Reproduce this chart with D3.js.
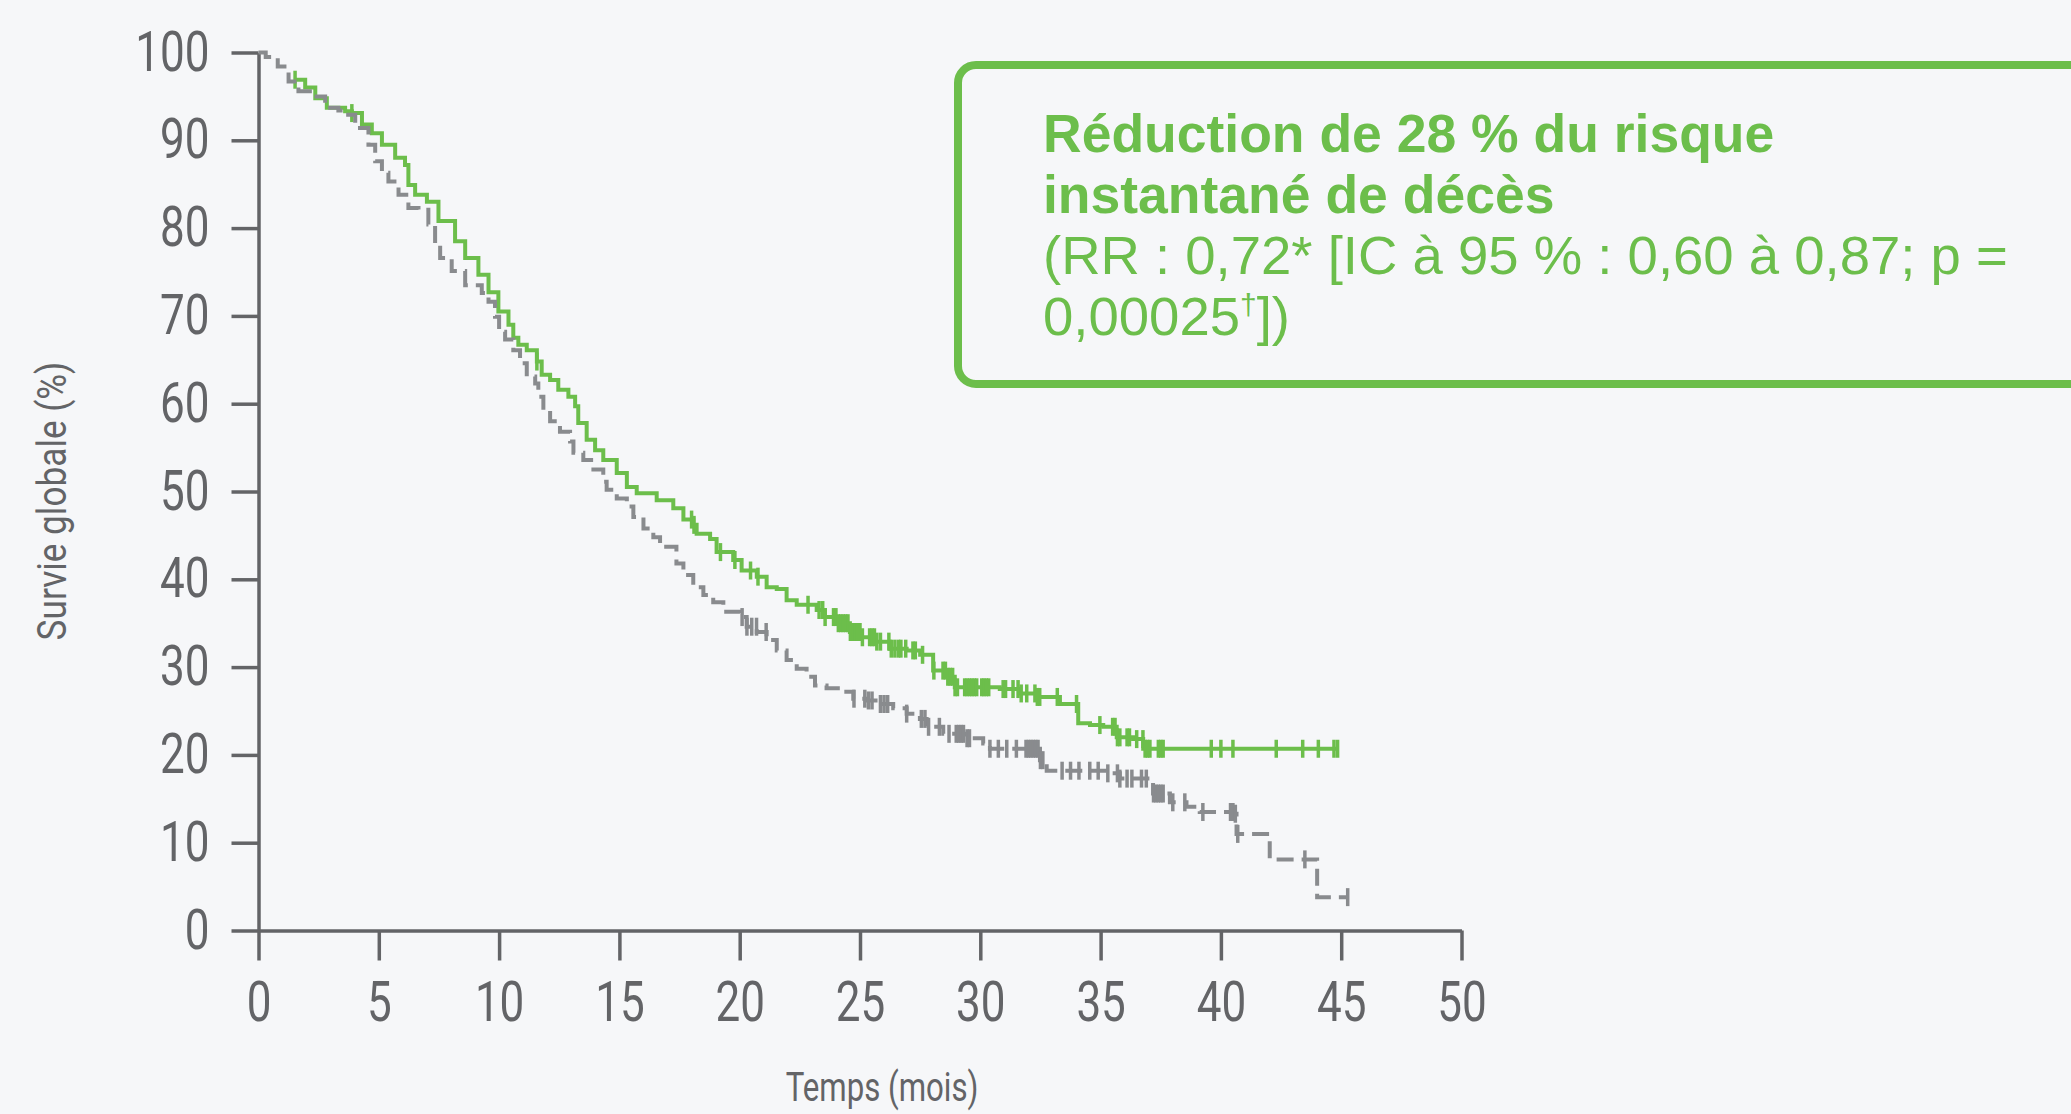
<!DOCTYPE html>
<html>
<head>
<meta charset="utf-8">
<script src="https://cdn.jsdelivr.net/npm/d3@7"></script>
<style>
  body { margin: 0; background: #f6f7f9; }
  svg { display: block; }
</style>
</head>
<body>
<svg id="chart" width="2071" height="1114"></svg>
<script>
// Axis ticks
var xTicks = [0, 5, 10, 15, 20, 25, 30, 35, 40, 45, 50];
var yTicks = [0, 10, 20, 30, 40, 50, 60, 70, 80, 90, 100];

// Treatment arm (green, solid) - months / overall survival %
var treatTime = [1.52, 1.94, 2.36, 2.84, 3.6, 3.88, 4.3, 4.71, 5.13, 5.68, 6.09, 6.23, 6.51, 7.0, 7.48, 8.17, 8.59, 9.14, 9.56, 9.97,
  10.39, 10.59, 10.8, 11.15, 11.57, 11.77, 12.12, 12.46, 12.88, 13.16, 13.29, 13.64, 13.99, 14.33, 14.89, 15.31, 15.72, 16.55, 17.24, 17.66,
  18.07, 18.21, 18.77, 19.04, 19.73, 20.08, 20.71, 21.12, 21.54, 21.95, 22.37, 23.2, 23.54, 24.03, 24.58, 25.07, 25.62, 26.24, 26.94, 27.5,
  28.04, 28.6, 28.94, 30.81, 31.64, 32.34, 33.31, 34.07, 34.56, 35.11, 35.67, 36.35, 36.77, 44.85];
var treatSurv = [96.9, 96.0, 94.8, 93.7, 93.3, 93.1, 91.8, 90.8, 89.5, 88.0, 87.2, 84.9, 83.8, 83.0, 80.8, 78.5, 76.6, 74.7, 72.7, 70.5,
  69.0, 67.5, 66.7, 66.1, 64.8, 63.3, 62.7, 61.6, 60.8, 59.7, 57.8, 55.9, 54.7, 53.6, 52.1, 50.5, 49.8, 49.0, 48.1, 46.8,
  46.2, 45.2, 44.6, 43.1, 42.2, 41.0, 40.3, 39.1, 38.9, 37.6, 37.1, 36.5, 35.7, 35.0, 34.0, 33.4, 32.9, 32.1, 31.9, 31.4,
  29.6, 28.9, 27.7, 27.5, 27.0, 26.6, 25.8, 23.6, 23.4, 23.2, 22.0, 21.8, 20.7, 20.7];
var treatCensor = [1.52, 3.88, 11.57, 18.0, 18.1, 19.2, 19.8, 20.45, 20.76, 22.84, 23.3, 23.45, 23.55, 23.9, 24.0, 24.1, 24.2, 24.3, 24.4,
  24.5, 24.6, 24.7, 24.8, 24.9, 25.0, 25.1, 25.4, 25.5, 25.6, 25.7, 25.85, 26.2, 26.3, 26.45, 26.6, 26.7, 26.9, 27.2, 27.3, 27.6, 28.07,
  28.45, 28.55, 28.65, 28.75, 28.85, 28.95, 29.05, 29.35, 29.45, 29.55, 29.65, 29.75, 29.85, 30.06, 30.15, 30.25, 30.35, 30.95, 31.05,
  31.36, 31.57, 31.7, 31.93, 32.27, 32.37, 32.47, 33.2, 34.0, 34.97, 35.5, 35.6, 35.7, 35.8, 36.1, 36.2, 36.5, 36.76, 36.85, 36.95,
  37.05, 37.4, 37.5, 37.6, 39.6, 40.0, 40.5, 42.3, 43.4, 44.05, 44.7, 44.85];

// Control arm (grey, dashed)
var ctrlTime = [0, 0.3, 0.8, 1.25, 1.66, 2.22, 2.77, 3.32, 3.6, 4.02, 4.57, 4.85, 5.13, 5.4, 5.82, 6.23, 6.65, 7.06, 7.34, 7.55,
  8.03, 8.59, 9.28, 9.56, 9.83, 10.0, 10.25, 10.59, 10.87, 11.15, 11.5, 11.63, 11.84, 12.12, 12.53, 12.95, 13.09, 13.5, 13.92, 14.33,
  14.47, 14.89, 15.31, 15.58, 16.0, 16.41, 16.69, 17.37, 17.66, 18.07, 18.49, 18.9, 19.32, 20.01, 20.29, 20.71, 21.12, 21.54, 21.95, 22.37,
  22.78, 23.13, 23.61, 24.3, 24.72, 25.28, 25.83, 26.38, 26.94, 27.49, 27.77, 28.46, 29.43, 30.12, 30.4, 32.48, 32.76, 35.25, 35.8, 37.18,
  37.88, 38.57, 39.12, 40.51, 40.65, 42.03, 44.0, 45.27];
var ctrlSurv = [100, 99.5, 98.4, 96.7, 95.6, 95.0, 93.7, 93.4, 92.9, 91.4, 89.5, 87.6, 86.3, 85.3, 83.8, 82.3, 82.1, 80.4, 78.1, 76.6,
  75.1, 73.5, 72.6, 71.6, 69.9, 68.2, 67.3, 66.1, 64.6, 63.1, 62.3, 60.8, 59.3, 58.0, 56.8, 55.7, 54.4, 53.6, 52.5, 51.1,
  50.2, 49.2, 48.3, 47.1, 45.8, 44.8, 43.7, 41.8, 40.5, 39.1, 38.2, 37.4, 36.3, 35.7, 34.6, 34.0, 33.1, 31.9, 30.8, 29.8,
  28.9, 27.9, 27.6, 27.2, 26.4, 26.2, 25.8, 25.3, 24.7, 24.1, 23.2, 22.4, 21.9, 21.3, 20.7, 19.4, 18.2, 17.9, 17.3, 15.6,
  14.6, 14.1, 13.5, 13.3, 11.0, 8.1, 3.8, 3.8];
var ctrlCensor = [20.1, 20.3, 20.5, 20.7, 21.1, 24.75, 25.2, 25.35, 25.5, 25.85, 26.0, 26.15, 26.94, 27.55, 27.7, 27.85, 28.3, 28.7,
  29.0, 29.1, 29.2, 29.3, 29.45, 29.55, 30.4, 30.75, 31.1, 31.5, 31.9, 32.0, 32.1, 32.2, 32.3, 32.4, 32.5, 32.6, 33.4, 33.75, 34.1,
  34.55, 34.9, 35.3, 35.7, 35.8, 36.1, 36.3, 36.7, 36.9, 37.2, 37.3, 37.4, 37.5, 37.6, 38.0, 38.5, 39.25, 40.4, 40.5, 40.6, 40.7,
  43.49, 45.27];

var boxTitle = ["Réduction de 28 % du risque", "instantané de décès"];
var boxDetail = ["(RR : 0,72* [IC à 95 % : 0,60 à 0,87; p =", "0,00025"];

var green = "#6cbe4b", grey = "#898b8e", axisColour = "#636467";

var svg = d3.select("#chart");

var x = d3.scaleLinear().domain([0, 50]).range([258.5, 1461.5]);
var y = d3.scaleLinear().domain([0, 100]).range([930.5, 52.5]);

// Y axis
var axisY = svg.append("g")
    .attr("transform", "translate(" + x(0) + ",0)")
    .call(d3.axisLeft(y).tickValues(yTicks).tickSize(27).tickSizeOuter(0).tickPadding(22));

// X axis
var axisX = svg.append("g")
    .attr("transform", "translate(0," + y(0) + ")")
    .call(d3.axisBottom(x).tickValues(xTicks).tickSize(30).tickSizeOuter(0).tickPadding(21));

[axisX, axisY].forEach(function (a) {
    a.selectAll("path, line").attr("stroke", axisColour).attr("stroke-width", 3.5);
    a.selectAll("text")
        .attr("fill", axisColour)
        .style("font-family", "Roboto, 'DejaVu Sans', sans-serif")
        .style("font-weight", 400)
        .style("font-size", "55px");
});

axisX.selectAll("text").attr("transform", "scale(0.8,1)");
axisY.selectAll("text").each(function () {
    var t = d3.select(this), tx = +t.attr("x");
    t.attr("x", 0).attr("transform", "translate(" + tx + ",0) scale(0.8,1)");
});

// Axis labels
svg.append("text")
    .attr("transform", "translate(66,501) rotate(-90) scale(0.88,1)")
    .attr("text-anchor", "middle")
    .attr("fill", axisColour)
    .style("font-family", "Roboto, sans-serif")
    .style("font-size", "40px")
    .text("Survie globale (%)");

svg.append("text")
    .attr("transform", "translate(882,1101) scale(0.78,1)")
    .attr("text-anchor", "middle")
    .attr("fill", axisColour)
    .style("font-family", "Roboto, sans-serif")
    .style("font-size", "40px")
    .text("Temps (mois)");

// KM curves
function zipData(t, s) {
    return t.map(function (d, i) { return [d, s[i]]; });
}
function stepValue(t, s, v) {
    var i = d3.bisectRight(t, v) - 1;
    return s[Math.max(0, i)];
}

var line = d3.line()
    .x(function (d) { return x(d[0]); })
    .y(function (d) { return y(d[1]); })
    .curve(d3.curveStepAfter);

svg.append("path")
    .datum(zipData(treatTime, treatSurv))
    .attr("d", line)
    .attr("fill", "none")
    .attr("stroke", green)
    .attr("stroke-width", 4);

svg.append("g").selectAll("line")
    .data(treatCensor)
    .enter().append("line")
    .attr("x1", function (d) { return x(d); })
    .attr("x2", function (d) { return x(d); })
    .attr("y1", function (d) { return y(stepValue(treatTime, treatSurv, d)) - 9; })
    .attr("y2", function (d) { return y(stepValue(treatTime, treatSurv, d)) + 9; })
    .attr("stroke", green)
    .attr("stroke-width", 3.5);

svg.append("path")
    .datum(zipData(ctrlTime, ctrlSurv))
    .attr("d", line)
    .attr("fill", "none")
    .attr("stroke", grey)
    .attr("stroke-width", 4)
    .attr("stroke-dasharray", "17,8");

svg.append("g").selectAll("line")
    .data(ctrlCensor)
    .enter().append("line")
    .attr("x1", function (d) { return x(d); })
    .attr("x2", function (d) { return x(d); })
    .attr("y1", function (d) { return y(stepValue(ctrlTime, ctrlSurv, d)) - 9; })
    .attr("y2", function (d) { return y(stepValue(ctrlTime, ctrlSurv, d)) + 9; })
    .attr("stroke", grey)
    .attr("stroke-width", 3.5);

// Hazard ratio box
svg.append("rect")
    .attr("x", 958).attr("y", 65)
    .attr("width", 1200).attr("height", 319)
    .attr("rx", 18)
    .attr("fill", "none")
    .attr("stroke", green)
    .attr("stroke-width", 8);

var boxText = svg.append("g")
    .attr("fill", green)
    .style("font-family", "'Liberation Sans', Arial, sans-serif");

boxTitle.forEach(function (t, i) {
    boxText.append("text")
        .attr("x", 1043).attr("y", 152 + i * 61)
        .style("font-weight", "bold")
        .style("font-size", "53.5px")
        .text(t);
});
boxDetail.forEach(function (t, i) {
    var tx = boxText.append("text")
        .attr("x", 1043).attr("y", 274 + i * 61)
        .style("font-size", "54.5px")
        .text(t);
    if (i === 1) {
        tx.append("tspan").attr("dy", -20).style("font-size", "30px").text("†");
        tx.append("tspan").attr("dy", 20).text("])");
    }
});
</script>
</body>
</html>
